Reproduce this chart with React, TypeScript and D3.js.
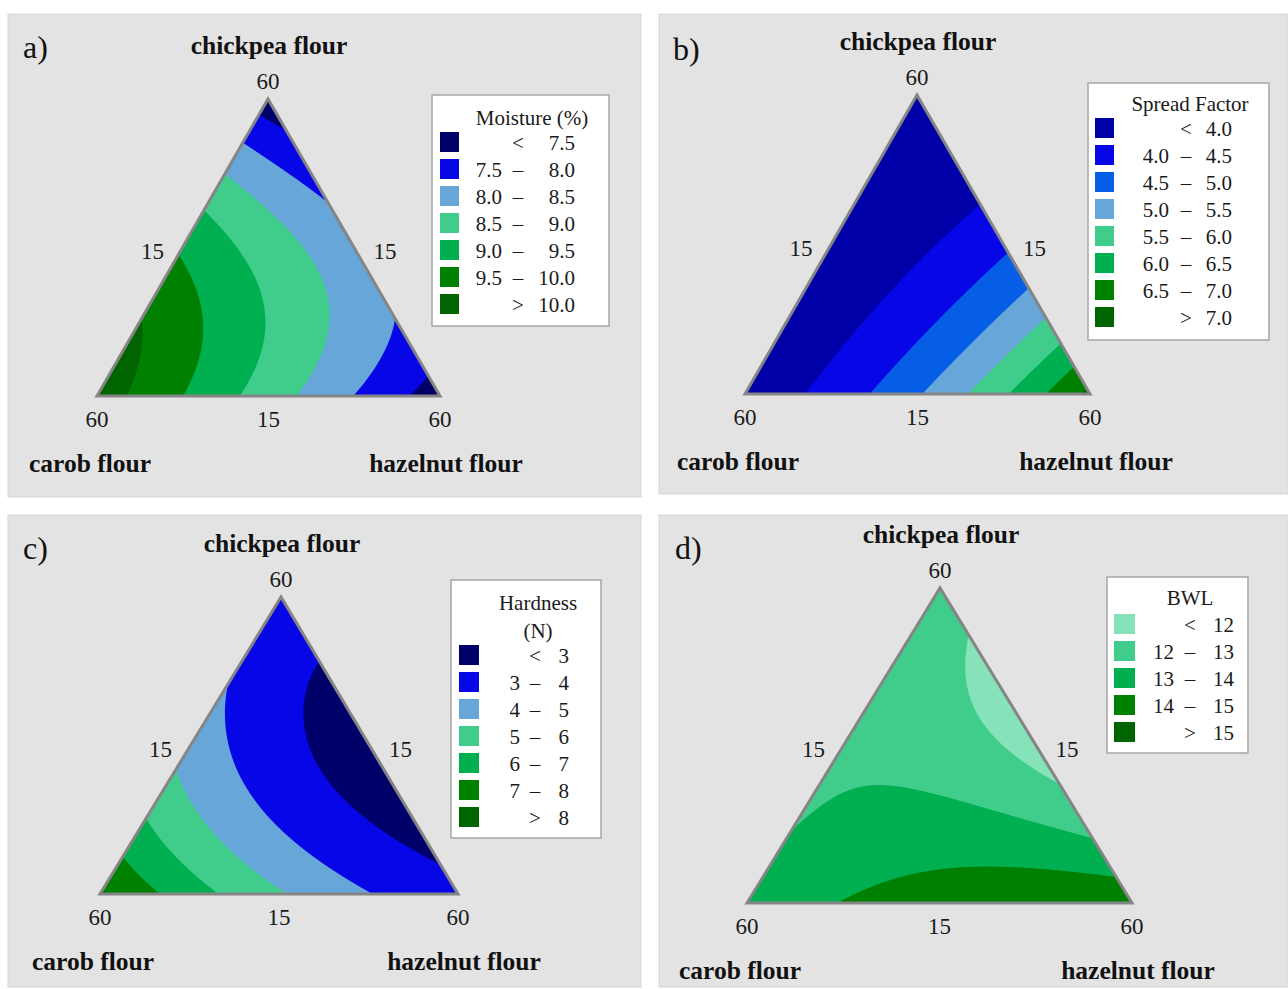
import React, { useMemo } from "react";
import * as d3 from "d3";

// ---------- data ----------
const componentNames = ["chickpea flour", "carob flour", "hazelnut flour"];
const vertexTick = "60";
const sideTick = "15";

// simplex-lattice design points (pseudo proportions: chickpea, carob, hazelnut)
const latticeChickpea = [1, 0.75, 0.75, 0.5, 0.5, 0.5, 0.25, 0.25, 0.25, 0.25, 0, 0, 0, 0, 0];
const latticeCarob = [0, 0.25, 0, 0.5, 0.25, 0, 0.75, 0.5, 0.25, 0, 1, 0.75, 0.5, 0.25, 0];
const latticeHazelnut = [0, 0, 0.25, 0, 0.25, 0.5, 0, 0.25, 0.5, 0.75, 0, 0.25, 0.5, 0.75, 1];

// response read at the lattice points
const moistureValues = [7.2, 8.49, 7.83, 9.43, 8.76, 8.14, 10.02, 9.32, 8.64, 7.98, 10.26, 9.5, 8.75, 7.99, 7.23];
const spreadValues = [3.63, 3.64, 3.77, 3.64, 3.91, 4.4, 3.65, 4.05, 4.68, 5.53, 3.65, 4.19, 4.95, 5.94, 7.15];
const hardnessValues = [3.94, 3.93, 2.9, 4.63, 3.31, 2.53, 6.03, 4.5, 3.39, 2.69, 8.15, 6.48, 5.11, 4.04, 3.27];
const bwlValues = [12.95, 12.85, 11.63, 12.85, 12.57, 11.59, 12.99, 13.31, 13.26, 12.7, 13.3, 14.05, 14.55, 14.8, 14.8];

// contour levels
const moistureBreaks = [7.5, 8.0, 8.5, 9.0, 9.5, 10.0];
const spreadBreaks = [4.0, 4.5, 5.0, 5.5, 6.0, 6.5, 7.0];
const hardnessBreaks = [3, 4, 5, 6, 7, 8];
const bwlBreaks = [12, 13, 14, 15];

const moistureColors = ["#00006a", "#0606e6", "#66a6d9", "#40cd8b", "#00b050", "#008000", "#006400"];
const spreadColors = ["#0000a8", "#0606e6", "#065de6", "#66a6d9", "#40cd8b", "#00b050", "#008000", "#006400"];
const hardnessColors = ["#00006a", "#0606e6", "#66a6d9", "#40cd8b", "#00b050", "#008000", "#006400"];
const bwlColors = ["#86e3b9", "#40cd8b", "#00b050", "#008000", "#006400"];

const moistureTitle = ["Moisture (%)"];
const spreadTitle = ["Spread Factor"];
const hardnessTitle = ["Hardness", "(N)"];
const bwlTitle = ["BWL"];

// ---------- layout ----------
type Pt = [number, number];
interface Panel {
  letter: string;
  letterPos: Pt;
  bg: [number, number, number, number];
  apex: Pt;
  bl: Pt;
  br: Pt;
  values: number[];
  breaks: number[];
  colors: string[];
  digits: number;
  title: string[];
  legend: {
    x: number; y: number; w: number; h: number;
    titleX: number; titleY: number[];
    swX: number; swW: number; swH: number; row0: number; rowStep: number;
    lowRight: number; symX: number; highRight: number;
  };
}

const panels: Panel[] = [
  {
    letter: "a)", letterPos: [23, 47], bg: [8, 14, 633, 483],
    apex: [268, 99], bl: [97, 396], br: [440, 396],
    values: moistureValues, breaks: moistureBreaks, colors: moistureColors, digits: 1, title: moistureTitle,
    legend: { x: 432, y: 95, w: 177, h: 231, titleX: 532, titleY: [118], swX: 440, swW: 19, swH: 20, row0: 143, rowStep: 27, lowRight: 502, symX: 518, highRight: 575 },
  },
  {
    letter: "b)", letterPos: [673, 49], bg: [659, 14, 629, 480],
    apex: [917, 95], bl: [745, 394], br: [1090, 394],
    values: spreadValues, breaks: spreadBreaks, colors: spreadColors, digits: 1, title: spreadTitle,
    legend: { x: 1088, y: 83, w: 181, h: 257, titleX: 1190, titleY: [104], swX: 1095, swW: 19, swH: 20, row0: 129, rowStep: 27, lowRight: 1169, symX: 1186, highRight: 1232 },
  },
  {
    letter: "c)", letterPos: [23, 548], bg: [8, 515, 633, 472],
    apex: [281, 597], bl: [100, 894], br: [458, 894],
    values: hardnessValues, breaks: hardnessBreaks, colors: hardnessColors, digits: 0, title: hardnessTitle,
    legend: { x: 451, y: 580, w: 150, h: 258, titleX: 538, titleY: [603, 631], swX: 459, swW: 20, swH: 20, row0: 656, rowStep: 27, lowRight: 520, symX: 535, highRight: 569 },
  },
  {
    letter: "d)", letterPos: [675, 548], bg: [659, 515, 629, 472],
    apex: [940, 588], bl: [747, 903], br: [1132, 903],
    values: bwlValues, breaks: bwlBreaks, colors: bwlColors, digits: 0, title: bwlTitle,
    legend: { x: 1107, y: 577, w: 141, h: 176, titleX: 1190, titleY: [598], swX: 1114, swW: 21, swH: 20, row0: 625, rowStep: 27, lowRight: 1174, symX: 1190, highRight: 1234 },
  },
];

const FONT = "'Liberation Serif', 'DejaVu Serif', serif";

// ---------- surface fit (cubic mixture model, least squares on lattice) ----------
function basis(t: number, l: number, r: number): number[] {
  return [t, l, r, t * l, t * r, l * r, t * l * (t - l), t * r * (t - r), l * r * (l - r), t * l * r];
}

function fitSurface(values: number[]): number[] {
  const k = 10;
  const A: number[][] = Array.from({ length: k }, () => new Array(k + 1).fill(0));
  for (let p = 0; p < values.length; p++) {
    const b = basis(latticeChickpea[p], latticeCarob[p], latticeHazelnut[p]);
    for (let i = 0; i < k; i++) {
      for (let j = 0; j < k; j++) A[i][j] += b[i] * b[j];
      A[i][k] += b[i] * values[p];
    }
  }
  for (let c = 0; c < k; c++) {
    let piv = c;
    for (let r = c + 1; r < k; r++) if (Math.abs(A[r][c]) > Math.abs(A[piv][c])) piv = r;
    [A[c], A[piv]] = [A[piv], A[c]];
    for (let r = 0; r < k; r++) {
      if (r === c) continue;
      const f = A[r][c] / A[c][c];
      for (let j = c; j <= k; j++) A[r][j] -= f * A[c][j];
    }
  }
  return A.map((row, i) => row[k] / row[i]);
}

function usePanelPaths(p: Panel) {
  return useMemo(() => {
    const coef = fitSurface(p.values);
    const [ax, ay] = p.apex, [bx, by] = p.bl, [cx, cy] = p.br;
    const det = (by - cy) * (ax - cx) + (cx - bx) * (ay - cy);
    const x0 = Math.floor(bx) - 4, x1 = Math.ceil(cx) + 4;
    const y0 = Math.floor(ay) - 4, y1 = Math.ceil(by) + 4;
    const n = x1 - x0, m = y1 - y0;
    const grid = new Float64Array(n * m);
    for (let j = 0; j < m; j++) {
      for (let i = 0; i < n; i++) {
        const x = x0 + i + 0.5, y = y0 + j + 0.5;
        const t = ((by - cy) * (x - cx) + (cx - bx) * (y - cy)) / det;
        const l = ((cy - ay) * (x - cx) + (ax - cx) * (y - cy)) / det;
        const r = 1 - t - l;
        const b = basis(t, l, r);
        let v = 0;
        for (let q = 0; q < 10; q++) v += coef[q] * b[q];
        grid[j * n + i] = v;
      }
    }
    const contours = d3.contours().size([n, m]).thresholds(p.breaks)(Array.from(grid));
    const path = d3.geoPath(d3.geoIdentity().translate([x0, y0]) as any);
    return contours.map((c) => path(c as any) || "");
  }, [p]);
}

function PanelView({ p, idx }: { p: Panel; idx: number }) {
  const paths = usePanelPaths(p);
  const [ax, ay] = p.apex, [bx, by] = p.bl, [cx, cy] = p.br;
  const tri = `M${ax},${ay}L${bx},${by}L${cx},${cy}Z`;
  const clipId = `clip-${idx}`;
  const fmt = d3.format(p.digits ? ".1f" : ".0f");
  const L = p.legend;
  const nRows = p.colors.length;
  const midLeft: Pt = [(ax + bx) / 2, (ay + by) / 2];
  const midRight: Pt = [(ax + cx) / 2, (ay + cy) / 2];
  const tickStyle = { fontFamily: FONT, fontSize: 23, fill: "#1a1a1a" };
  const titleStyle = { fontFamily: FONT, fontSize: 25.5, fontWeight: 700, fill: "#111" };
  const legStyle = { fontFamily: FONT, fontSize: 21, fill: "#1a1a1a" };
  return (
    <g>
      <rect x={p.bg[0]} y={p.bg[1]} width={p.bg[2]} height={p.bg[3]} fill="#e3e3e3" stroke="#d6d6d6" strokeWidth={1} />
      <text x={p.letterPos[0]} y={p.letterPos[1]} dominantBaseline="central" style={{ fontFamily: FONT, fontSize: 32, fill: "#111" }}>{p.letter}</text>
      <defs>
        <clipPath id={clipId}><path d={tri} /></clipPath>
      </defs>
      <g clipPath={`url(#${clipId})`}>
        <path d={tri} fill={p.colors[0]} />
        {paths.map((d, i) => (
          <path key={i} d={d} fill={p.colors[i + 1]} />
        ))}
      </g>
      <path d={tri} fill="none" stroke="#858585" strokeWidth={3} strokeLinejoin="miter" />
      {/* vertex & side ticks */}
      <text x={ax} y={ay - 18} textAnchor="middle" dominantBaseline="central" style={tickStyle}>{vertexTick}</text>
      <text x={bx} y={by + 23} textAnchor="middle" dominantBaseline="central" style={tickStyle}>{vertexTick}</text>
      <text x={cx} y={cy + 23} textAnchor="middle" dominantBaseline="central" style={tickStyle}>{vertexTick}</text>
      <text x={midLeft[0] - 30} y={midLeft[1] + 4} textAnchor="middle" dominantBaseline="central" style={tickStyle}>{sideTick}</text>
      <text x={midRight[0] + 31} y={midRight[1] + 4} textAnchor="middle" dominantBaseline="central" style={tickStyle}>{sideTick}</text>
      <text x={(bx + cx) / 2} y={by + 23} textAnchor="middle" dominantBaseline="central" style={tickStyle}>{sideTick}</text>
      {/* component names */}
      <text x={ax + 1} y={ay - 54} textAnchor="middle" dominantBaseline="central" style={titleStyle}>{componentNames[0]}</text>
      <text x={bx - 7} y={by + 67} textAnchor="middle" dominantBaseline="central" style={titleStyle}>{componentNames[1]}</text>
      <text x={cx + 6} y={cy + 67} textAnchor="middle" dominantBaseline="central" style={titleStyle}>{componentNames[2]}</text>
      {/* legend */}
      <rect x={L.x} y={L.y} width={L.w} height={L.h} fill="#ffffff" stroke="#a6a6a6" strokeWidth={1.5} />
      {p.title.map((t, i) => (
        <text key={i} x={L.titleX} y={L.titleY[i]} textAnchor="middle" dominantBaseline="central" style={legStyle}>{t}</text>
      ))}
      {p.colors.map((col, i) => {
        const yc = L.row0 + i * L.rowStep;
        let low = "", sym = "–", high = "";
        if (i === 0) { sym = "<"; high = fmt(p.breaks[0]); }
        else if (i === nRows - 1) { sym = ">"; high = fmt(p.breaks[p.breaks.length - 1]); }
        else { low = fmt(p.breaks[i - 1]); high = fmt(p.breaks[i]); }
        return (
          <g key={i}>
            <rect x={L.swX} y={yc - 1 - L.swH / 2} width={L.swW} height={L.swH} fill={col} />
            {low && <text x={L.lowRight} y={yc} textAnchor="end" dominantBaseline="central" style={legStyle}>{low}</text>}
            <text x={L.symX} y={yc} textAnchor="middle" dominantBaseline="central" style={legStyle}>{sym}</text>
            <text x={L.highRight} y={yc} textAnchor="end" dominantBaseline="central" style={legStyle}>{high}</text>
          </g>
        );
      })}
    </g>
  );
}

export default function App() {
  return (
    <svg width={1288} height={989} viewBox="0 0 1288 989" style={{ position: "absolute", left: 0, top: 0, background: "#ffffff" }}>
      <rect x={0} y={0} width={1288} height={989} fill="#ffffff" />
      {panels.map((p, i) => (
        <PanelView key={i} p={p} idx={i} />
      ))}
    </svg>
  );
}
